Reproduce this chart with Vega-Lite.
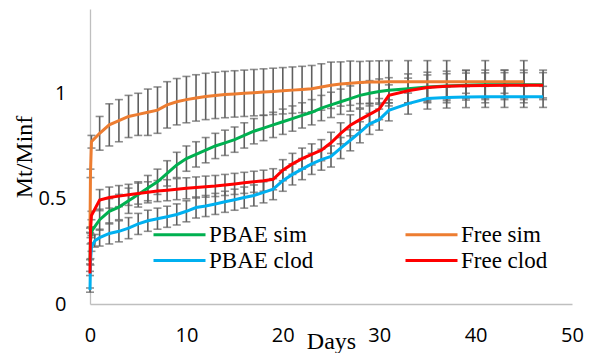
{
  "$schema": "https://vega.github.io/schema/vega-lite/v6.json",
  "width": 482,
  "height": 295,
  "autosize": {"type": "none"},
  "padding": {"left": 90, "top": 9, "right": 18, "bottom": 49},
  "background": "white",
  "config": {
    "view": {"stroke": null},
    "axis": {
      "grid": false, "ticks": false, "domainColor": "#BFBFBF", "domainWidth": 1.3,
      "labelFont": "Open Sans", "labelFontSize": 20, "labelColor": "#000000", "labelFlush": false,
      "titleFont": "Liberation Serif", "titleFontSize": 24, "titleFontWeight": "normal", "titleColor": "#000000"
    }
  },
  "data": {"values": [
    {"s":"Free sim","d":0,"v":0.35,"e":0.01},
    {"s":"Free sim","d":0.05,"v":0.62,"e":0.02},
    {"s":"Free sim","d":0.15,"v":0.77,"e":0.03},
    {"s":"Free sim","d":1,"v":0.81,"e":0.08},
    {"s":"Free sim","d":2,"v":0.85,"e":0.1},
    {"s":"Free sim","d":3,"v":0.87,"e":0.1},
    {"s":"Free sim","d":4,"v":0.89,"e":0.1},
    {"s":"Free sim","d":5,"v":0.9,"e":0.1},
    {"s":"Free sim","d":6,"v":0.91,"e":0.11},
    {"s":"Free sim","d":7,"v":0.92,"e":0.11},
    {"s":"Free sim","d":8,"v":0.945,"e":0.11},
    {"s":"Free sim","d":9,"v":0.96,"e":0.11},
    {"s":"Free sim","d":10,"v":0.97,"e":0.11},
    {"s":"Free sim","d":11,"v":0.978,"e":0.11},
    {"s":"Free sim","d":12,"v":0.985,"e":0.11},
    {"s":"Free sim","d":13,"v":0.99,"e":0.11},
    {"s":"Free sim","d":14,"v":0.994,"e":0.11},
    {"s":"Free sim","d":15,"v":0.997,"e":0.11},
    {"s":"Free sim","d":16,"v":1.0,"e":0.11},
    {"s":"Free sim","d":17,"v":1.003,"e":0.11},
    {"s":"Free sim","d":18,"v":1.006,"e":0.11},
    {"s":"Free sim","d":19,"v":1.009,"e":0.11},
    {"s":"Free sim","d":20,"v":1.012,"e":0.11},
    {"s":"Free sim","d":21,"v":1.015,"e":0.11},
    {"s":"Free sim","d":22,"v":1.018,"e":0.11},
    {"s":"Free sim","d":23,"v":1.022,"e":0.11},
    {"s":"Free sim","d":24,"v":1.03,"e":0.11},
    {"s":"Free sim","d":25,"v":1.038,"e":0.11},
    {"s":"Free sim","d":26,"v":1.044,"e":0.105},
    {"s":"Free sim","d":27,"v":1.048,"e":0.105},
    {"s":"Free sim","d":28,"v":1.051,"e":0.1},
    {"s":"Free sim","d":29,"v":1.053,"e":0.1},
    {"s":"Free sim","d":30,"v":1.054,"e":0.1},
    {"s":"Free sim","d":31,"v":1.055,"e":0.1},
    {"s":"Free sim","d":33,"v":1.055,"e":0.1},
    {"s":"Free sim","d":35,"v":1.055,"e":0.1},
    {"s":"Free sim","d":37,"v":1.055,"e":0.1},
    {"s":"Free sim","d":39,"v":1.055,"e":0.055},
    {"s":"Free sim","d":41,"v":1.055,"e":0.1},
    {"s":"Free sim","d":43,"v":1.055,"e":0.055},
    {"s":"Free sim","d":45,"v":1.055,"e":0.1},

    {"s":"PBAE sim","d":0,"v":0.2,"e":0.01},
    {"s":"PBAE sim","d":0.05,"v":0.3,"e":0.015},
    {"s":"PBAE sim","d":0.15,"v":0.345,"e":0.02},
    {"s":"PBAE sim","d":1,"v":0.4,"e":0.05},
    {"s":"PBAE sim","d":2,"v":0.44,"e":0.06},
    {"s":"PBAE sim","d":3,"v":0.46,"e":0.06},
    {"s":"PBAE sim","d":4,"v":0.49,"e":0.06},
    {"s":"PBAE sim","d":5,"v":0.52,"e":0.06},
    {"s":"PBAE sim","d":6,"v":0.55,"e":0.06},
    {"s":"PBAE sim","d":7,"v":0.58,"e":0.06},
    {"s":"PBAE sim","d":8,"v":0.62,"e":0.06},
    {"s":"PBAE sim","d":9,"v":0.66,"e":0.06},
    {"s":"PBAE sim","d":10,"v":0.69,"e":0.06},
    {"s":"PBAE sim","d":11,"v":0.71,"e":0.06},
    {"s":"PBAE sim","d":12,"v":0.73,"e":0.06},
    {"s":"PBAE sim","d":13,"v":0.75,"e":0.06},
    {"s":"PBAE sim","d":14,"v":0.765,"e":0.06},
    {"s":"PBAE sim","d":15,"v":0.78,"e":0.06},
    {"s":"PBAE sim","d":16,"v":0.8,"e":0.06},
    {"s":"PBAE sim","d":17,"v":0.82,"e":0.06},
    {"s":"PBAE sim","d":18,"v":0.835,"e":0.06},
    {"s":"PBAE sim","d":19,"v":0.85,"e":0.06},
    {"s":"PBAE sim","d":20,"v":0.865,"e":0.06},
    {"s":"PBAE sim","d":21,"v":0.88,"e":0.06},
    {"s":"PBAE sim","d":22,"v":0.895,"e":0.06},
    {"s":"PBAE sim","d":23,"v":0.91,"e":0.06},
    {"s":"PBAE sim","d":24,"v":0.93,"e":0.06},
    {"s":"PBAE sim","d":25,"v":0.945,"e":0.06},
    {"s":"PBAE sim","d":26,"v":0.96,"e":0.06},
    {"s":"PBAE sim","d":27,"v":0.975,"e":0.06},
    {"s":"PBAE sim","d":28,"v":0.99,"e":0.06},
    {"s":"PBAE sim","d":29,"v":1.0,"e":0.06},
    {"s":"PBAE sim","d":30,"v":1.008,"e":0.06},
    {"s":"PBAE sim","d":31,"v":1.014,"e":0.06},
    {"s":"PBAE sim","d":33,"v":1.022,"e":0.07},
    {"s":"PBAE sim","d":35,"v":1.03,"e":0.07},
    {"s":"PBAE sim","d":37,"v":1.035,"e":0.07},
    {"s":"PBAE sim","d":39,"v":1.038,"e":0.07},
    {"s":"PBAE sim","d":41,"v":1.04,"e":0.07},
    {"s":"PBAE sim","d":43,"v":1.04,"e":0.07},
    {"s":"PBAE sim","d":45,"v":1.04,"e":0.07},
    {"s":"PBAE sim","d":47,"v":1.04,"e":0.07},

    {"s":"PBAE clod","d":0,"v":0.066,"e":0.01},
    {"s":"PBAE clod","d":0.05,"v":0.2,"e":0.015},
    {"s":"PBAE clod","d":0.15,"v":0.27,"e":0.02},
    {"s":"PBAE clod","d":0.5,"v":0.3,"e":0.03},
    {"s":"PBAE clod","d":1,"v":0.315,"e":0.04},
    {"s":"PBAE clod","d":2,"v":0.335,"e":0.05},
    {"s":"PBAE clod","d":3,"v":0.345,"e":0.05},
    {"s":"PBAE clod","d":4,"v":0.36,"e":0.05},
    {"s":"PBAE clod","d":5,"v":0.38,"e":0.05},
    {"s":"PBAE clod","d":6,"v":0.395,"e":0.05},
    {"s":"PBAE clod","d":7,"v":0.405,"e":0.05},
    {"s":"PBAE clod","d":8,"v":0.414,"e":0.05},
    {"s":"PBAE clod","d":9,"v":0.425,"e":0.05},
    {"s":"PBAE clod","d":10,"v":0.44,"e":0.05},
    {"s":"PBAE clod","d":11,"v":0.458,"e":0.05},
    {"s":"PBAE clod","d":12,"v":0.465,"e":0.05},
    {"s":"PBAE clod","d":13,"v":0.475,"e":0.05},
    {"s":"PBAE clod","d":14,"v":0.485,"e":0.05},
    {"s":"PBAE clod","d":15,"v":0.495,"e":0.05},
    {"s":"PBAE clod","d":16,"v":0.505,"e":0.05},
    {"s":"PBAE clod","d":17,"v":0.515,"e":0.05},
    {"s":"PBAE clod","d":18,"v":0.53,"e":0.05},
    {"s":"PBAE clod","d":19,"v":0.545,"e":0.05},
    {"s":"PBAE clod","d":20,"v":0.585,"e":0.05},
    {"s":"PBAE clod","d":21,"v":0.615,"e":0.05},
    {"s":"PBAE clod","d":22,"v":0.64,"e":0.05},
    {"s":"PBAE clod","d":23,"v":0.665,"e":0.05},
    {"s":"PBAE clod","d":24,"v":0.685,"e":0.05},
    {"s":"PBAE clod","d":25,"v":0.7,"e":0.05},
    {"s":"PBAE clod","d":26,"v":0.74,"e":0.05},
    {"s":"PBAE clod","d":27,"v":0.777,"e":0.05},
    {"s":"PBAE clod","d":28,"v":0.815,"e":0.05},
    {"s":"PBAE clod","d":29,"v":0.855,"e":0.05},
    {"s":"PBAE clod","d":30,"v":0.875,"e":0.05},
    {"s":"PBAE clod","d":31,"v":0.919,"e":0.05},
    {"s":"PBAE clod","d":33,"v":0.951,"e":0.05},
    {"s":"PBAE clod","d":35,"v":0.975,"e":0.05},
    {"s":"PBAE clod","d":37,"v":0.98,"e":0.05},
    {"s":"PBAE clod","d":39,"v":0.982,"e":0.05},
    {"s":"PBAE clod","d":41,"v":0.983,"e":0.05},
    {"s":"PBAE clod","d":43,"v":0.983,"e":0.05},
    {"s":"PBAE clod","d":45,"v":0.983,"e":0.05},
    {"s":"PBAE clod","d":47,"v":0.983,"e":0.05},

    {"s":"Free clod","d":0,"v":0.145,"e":0.01},
    {"s":"Free clod","d":0.05,"v":0.35,"e":0.015},
    {"s":"Free clod","d":0.15,"v":0.42,"e":0.02},
    {"s":"Free clod","d":1,"v":0.493,"e":0.05},
    {"s":"Free clod","d":2,"v":0.505,"e":0.05},
    {"s":"Free clod","d":3,"v":0.512,"e":0.05},
    {"s":"Free clod","d":4,"v":0.518,"e":0.05},
    {"s":"Free clod","d":5,"v":0.524,"e":0.05},
    {"s":"Free clod","d":6,"v":0.53,"e":0.05},
    {"s":"Free clod","d":7,"v":0.536,"e":0.05},
    {"s":"Free clod","d":8,"v":0.54,"e":0.05},
    {"s":"Free clod","d":9,"v":0.545,"e":0.05},
    {"s":"Free clod","d":10,"v":0.549,"e":0.05},
    {"s":"Free clod","d":11,"v":0.553,"e":0.05},
    {"s":"Free clod","d":12,"v":0.557,"e":0.05},
    {"s":"Free clod","d":13,"v":0.56,"e":0.05},
    {"s":"Free clod","d":14,"v":0.565,"e":0.05},
    {"s":"Free clod","d":15,"v":0.57,"e":0.05},
    {"s":"Free clod","d":16,"v":0.575,"e":0.05},
    {"s":"Free clod","d":17,"v":0.58,"e":0.05},
    {"s":"Free clod","d":18,"v":0.585,"e":0.05},
    {"s":"Free clod","d":19,"v":0.592,"e":0.05},
    {"s":"Free clod","d":20,"v":0.635,"e":0.05},
    {"s":"Free clod","d":21,"v":0.665,"e":0.05},
    {"s":"Free clod","d":22,"v":0.69,"e":0.05},
    {"s":"Free clod","d":23,"v":0.71,"e":0.05},
    {"s":"Free clod","d":24,"v":0.73,"e":0.05},
    {"s":"Free clod","d":25,"v":0.765,"e":0.05},
    {"s":"Free clod","d":26,"v":0.81,"e":0.05},
    {"s":"Free clod","d":27,"v":0.848,"e":0.05},
    {"s":"Free clod","d":28,"v":0.875,"e":0.05},
    {"s":"Free clod","d":29,"v":0.9,"e":0.05},
    {"s":"Free clod","d":30,"v":0.925,"e":0.05},
    {"s":"Free clod","d":31,"v":0.99,"e":0.05},
    {"s":"Free clod","d":33,"v":1.012,"e":0.06},
    {"s":"Free clod","d":35,"v":1.027,"e":0.06},
    {"s":"Free clod","d":37,"v":1.033,"e":0.06},
    {"s":"Free clod","d":39,"v":1.036,"e":0.06},
    {"s":"Free clod","d":41,"v":1.037,"e":0.06},
    {"s":"Free clod","d":43,"v":1.038,"e":0.06},
    {"s":"Free clod","d":45,"v":1.038,"e":0.06},
    {"s":"Free clod","d":47,"v":1.038,"e":0.06}
  ]},
  "layer": [
    {
      "mark": {"type": "errorbar", "ticks": {"size": 8, "color": "#5F5F5F"}, "rule": {"color": "#5F5F5F"}, "thickness": 1.6},
      "encoding": {
        "x": {"field": "d", "type": "quantitative",
              "scale": {"domain": [0, 50], "nice": false, "zero": true},
              "axis": {"values": [0, 10, 20, 30, 40, 50], "title": "Days", "labelPadding": 21,
                       "titleBaseline": "alphabetic", "titleY": 44, "titleX": 241, "titleAnchor": "middle"}},
        "y": {"field": "v", "type": "quantitative",
              "scale": {"domain": [0, 1.4], "nice": false},
              "axis": {"values": [0, 0.5, 1], "format": "~g", "title": "Mt/Minf", "labelPadding": 24,
                       "titleX": -66, "titleY": 147.5, "titleAngle": -90, "titleAlign": "center", "titleBaseline": "middle"}},
        "yError": {"field": "e"},
        "detail": {"field": "s", "type": "nominal"}
      }
    },
    {
      "mark": {"type": "line", "strokeWidth": 3},
      "encoding": {
        "x": {"field": "d", "type": "quantitative"},
        "y": {"field": "v", "type": "quantitative"},
        "order": {"field": "d", "type": "quantitative"},
        "color": {"field": "s", "type": "nominal",
                  "scale": {"domain": ["PBAE sim", "PBAE clod", "Free sim", "Free clod"],
                            "range": ["#00B050", "#00B0F0", "#ED7D31", "#FF0000"]},
                  "legend": {"orient": "none", "legendX": 78, "legendY": 214, "columns": 2, "title": null,
                             "symbolType": "M-2.6,0H2.6", "symbolSize": 400, "symbolStrokeWidth": 3,
                             "labelFont": "Liberation Serif", "labelFontSize": 23, "labelColor": "#000000",
                             "columnPadding": 85, "rowPadding": 2, "labelOffset": 18, "padding": 0}}
      }
    }
  ]
}
